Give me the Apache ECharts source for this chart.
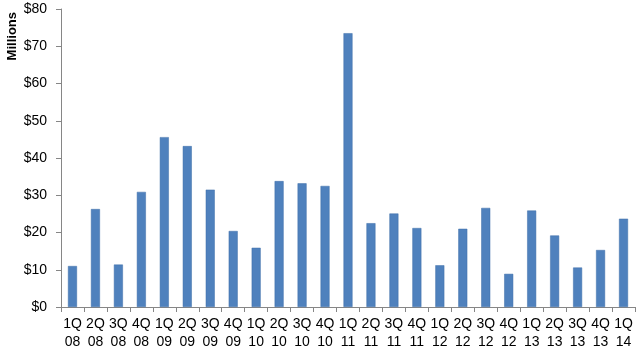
<!DOCTYPE html>
<html><head><meta charset="utf-8">
<script src="https://cdn.jsdelivr.net/npm/echarts@6/dist/echarts.min.js"></script>
<style>html,body{margin:0;padding:0;background:#fff}#c{width:640px;height:354px}</style>
</head><body><div id="c"></div>
<script>
const categories = ['1Q\n08','2Q\n08','3Q\n08','4Q\n08','1Q\n09','2Q\n09','3Q\n09','4Q\n09','1Q\n10','2Q\n10','3Q\n10','4Q\n10','1Q\n11','2Q\n11','3Q\n11','4Q\n11','1Q\n12','2Q\n12','3Q\n12','4Q\n12','1Q\n13','2Q\n13','3Q\n13','4Q\n13','1Q\n14'];
const values = [11.0,26.3,11.4,30.9,45.6,43.2,31.5,20.4,15.9,33.8,33.2,32.5,73.5,22.5,25.1,21.2,11.2,21.0,26.6,8.9,25.9,19.2,10.6,15.3,23.7];
const yTicks = [0,10,20,30,40,50,60,70,80];
const yName = 'Millions';

const chart = echarts.init(document.getElementById('c'), null, {renderer:'canvas'});
const font = 'Liberation Sans, Arial, sans-serif';
chart.setOption({
  animation:false,
  grid:{left:61,right:5,top:9,bottom:47},
  xAxis:{type:'category',data:categories,
    axisLine:{lineStyle:{color:'#868686',width:1}},
    axisTick:{show:true,length:5,lineStyle:{color:'#868686'}},
    axisLabel:{color:'#000',fontSize:14,fontFamily:font,lineHeight:18,margin:8,interval:0}},
  yAxis:{type:'value',min:yTicks[0],max:yTicks[yTicks.length-1],interval:10,
    axisLine:{show:true,lineStyle:{color:'#868686',width:1}},
    axisTick:{show:true,length:5,lineStyle:{color:'#868686'}},
    splitLine:{show:false},
    axisLabel:{color:'#000',fontSize:14,fontFamily:font,margin:14,formatter:v=>'$'+v}},
  graphic:[{type:'text',left:6,top:12,rotation:Math.PI/2,
    style:{text:yName,fontSize:13,fontWeight:'bold',fontFamily:font,fill:'#000'}}],
  series:[{type:'bar',data:values,barWidth:9,
    itemStyle:{color:'#4F81BD',borderColor:'#3F6FA8',borderWidth:0.5}}]
});
</script></body></html>
